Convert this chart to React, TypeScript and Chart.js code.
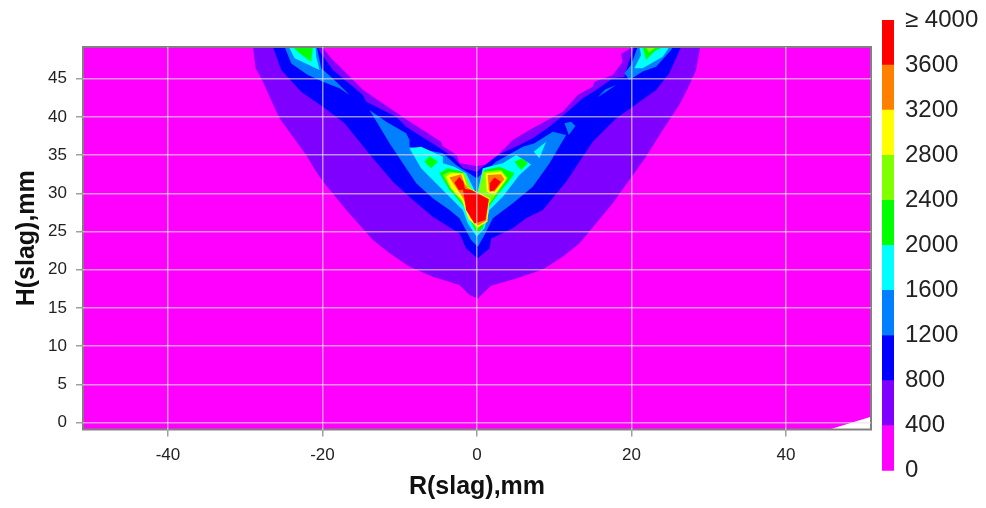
import React, { useEffect, useRef } from "react";
import { Chart, registerables } from "chart.js";

Chart.register(...registerables);

type P = [number, number];

const FONT = "'Liberation Sans', Arial, sans-serif";
const xRange: P = [-51, 51];
const yRange: P = [-0.9, 49.15];
const xTickValues = [-40, -20, 0, 20, 40];
const yTickValues = [0, 5, 10, 15, 20, 25, 30, 35, 40, 45];
const levelTicks = [0, 400, 800, 1200, 1600, 2000, 2400, 2800, 3200, 3600, 4000];
const levelColors = ["#ff00ff", "#7f00ff", "#0000ff", "#007fff", "#00ffff", "#00ff00", "#7fff00", "#ffff00", "#ff7f00", "#ff0000"];

const base0: P[] = [[-51, -0.9], [-51, 49.15], [51, 49.15], [51, 0.76], [45.6, -0.9]];

const region400: P[] = [
  [-29, 49.15], [-28.66, 46.36], [-27.71, 44.6], [-26.85, 42.65], [-25.55, 39.8], [-23.83, 37.4], [-22.1, 35], [-20.8, 32.8], [-19.73, 31.3], [-16.9, 27.8], [-13.48, 23.9], [-11.3, 22.15],
  [-8.73, 20.4], [-5.72, 19.1], [-2.27, 18], [-0.97, 16.7], [0.1, 16.25], [1.83, 17.9], [5.07, 18.87], [8.52, 20.05], [11.1, 21.7], [13.26, 23.45], [15.4, 26.07], [17.57, 28.7], [19.73, 31.75],
  [21.88, 34.8], [24.04, 38.3], [26.2, 41.6], [27.3, 43.74], [28.35, 46.1], [28.91, 49.15], [20.16, 49.15], [18.65, 48.24], [18.86, 47.23], [17.57, 45.5],
  [15.2, 44.6], [14.98, 43.96], [13.04, 42.87], [11.1, 40.69], [6.79, 38.29], [4.63, 36.98], [2.91, 35.2], [2.26, 33.93],
  [-0.03, 33.58], [-2.27, 33.93], [-2.61, 35.02], [-4.42, 36.2], [-4.64, 36.76], [-9.17, 39.69], [-14.77, 43.55], [-18.87, 47.67], [-20.03, 49.15],
];
const region800: P[] = [
  [-26.41, 49.15], [-25.34, 46.14], [-22.75, 43.31], [-21.24, 42.2], [-19.95, 41.34], [-17.14, 39.16], [-13.48, 34.58], [-10.89, 31.53], [-8.3, 29.13],
  [-5.72, 26.95], [-2.27, 24.76], [-1.4, 22.8], [0.05, 21.49], [1.62, 22.8], [1.83, 24.1], [4.64, 25.42], [6.36, 26.73], [8.52, 27.82], [11.54, 31.53], [13.26, 34.14],
  [14.98, 36.76], [16.7, 38.5], [18, 39.8], [20.16, 41.34], [23.18, 43.53], [24.9, 45.7], [26.41, 49.15], [20.37, 49.15], [19.73, 47.45], [19.08, 45.27],
  [17.57, 45.05], [15.42, 43.53], [13.69, 42.44], [11.97, 40.9], [9.38, 38.73], [7.22, 37.2], [5.5, 36.33], [2.7, 35.02], [0.76, 33.49],
  [-0.03, 32.83], [-1.84, 33.27], [-2.9, 34.58], [-4.42, 35.67], [-9.17, 38.73], [-10.46, 40.03], [-14.34, 42], [-14.77, 42.87], [-18.65, 46.14], [-20.16, 48.3], [-20.6, 49.15],
];
const top1200Left: P[] = [[-24.9, 49.15], [-24.04, 47], [-21.89, 45.49], [-19.95, 44.6], [-17.79, 43.74], [-16.5, 42.87], [-18.22, 44.6], [-20.16, 46.36], [-20.72, 49.15]];
const core1200: P[] = [
  [-13.91, 40.91], [-11.75, 39.38], [-9.17, 37.85], [-8.73, 36.98], [-8.73, 36.11], [-4.42, 35.24], [-2.7, 33.71], [-0.03, 31.96], [2.48, 34.14],
  [5.93, 36.11], [7.44, 36.55], [9.81, 38.07], [11.54, 37.64], [9.38, 33.93], [7.22, 30.87], [4.64, 28.69], [2.05, 26.73], [0.97, 24.55], [0.11, 23.02],
  [-0.76, 23.89], [-2.27, 26.73], [-3.56, 27.82], [-5.72, 29.35], [-7.87, 31.31], [-9.6, 33.93], [-11.32, 36.54],
];
const diamond1200: P[] = [[11.32, 39.16], [12.18, 39.38], [12.74, 38.81], [11.88, 37.64]];
const sliver1200: P[] = [[15.63, 42.57], [18, 44.18], [16.6, 43.6]];
const top1200Right: P[] = [[19.08, 45.7], [19.73, 44.83], [21.45, 45.93], [23.18, 46.58], [25.12, 48.76], [25.33, 49.15], [20.8, 49.15], [19.94, 46.8]];

const top1600Left: P[] = [[-24.34, 49.15], [-23.61, 47.67], [-20.38, 46.14], [-20.81, 47.89], [-20.9, 49.15]];
const core1600: P[] = [
  [-8.74, 35.89], [-7.23, 36.11], [-4.42, 34.8], [-4.42, 33.93], [-2.92, 33.49], [-1.41, 32.62], [-0.76, 31.31], [-0.03, 29.78], [0.32, 31.31], [0.75, 33.27],
  [3.34, 33.93], [5.06, 35.02], [7.0, 33.76], [5.49, 32.4], [3.34, 29.56], [1.61, 27.82], [0.97, 25.42], [-0.03, 24.33], [-1.19, 26.07], [-1.84, 27.82], [-3.56, 29.56], [-7.23, 33.27],
];
const sliver1600: P[] = [[7.35, 35.45], [8.94, 36.76], [8.08, 34.58]];
const top1600Right: P[] = [[21.02, 49.15], [21.24, 48.1], [20.37, 46.36], [21.45, 46.36], [24.04, 47.89], [24.9, 49.15]];

const top2000Left: P[] = [[-23.83, 49.15], [-22.97, 48.33], [-21.46, 47.23], [-21.24, 49.15]];
const island2000Left: P[] = [[-6.8, 34.14], [-6.15, 34.89], [-5.07, 34.14], [-5.93, 33.27]];
const core2000: P[] = [
  [-4.86, 32.62], [-3.78, 33.27], [-1.84, 32.83], [-1.19, 31.31], [-0.03, 29.34], [0.53, 30.87], [0.97, 33.05], [2.91, 33.49], [4.85, 32.62], [4.42, 31.96],
  [2.48, 29.56], [1.4, 28.04], [0.75, 25.42], [-0.03, 24.76], [-0.76, 26.3], [-1.62, 28.25], [-3.56, 30.44],
];
const island2000Right: P[] = [[4.85, 34.14], [5.84, 34.58], [6.57, 33.93], [5.71, 33.05]];
const top2000Right: P[] = [[21.45, 49.15], [21.88, 47.45], [22.96, 48.55], [24.04, 49.15]];

const core2400: P[] = [
  [-4.42, 32.4], [-3.56, 32.83], [-1.62, 32.62], [-0.03, 29.13], [0.75, 32.84], [3.12, 33.05], [3.98, 31.96], [2.26, 29.56], [1.18, 28.04], [0.53, 25.85],
  [-0.03, 25.2], [-0.54, 26.3], [-1.62, 28.47], [-3.56, 30.87],
];
const top2400Right: P[] = [[21.9, 49.15], [22.2, 48.4], [23.2, 49.15]];

const core2800: P[] = [[-3.99, 32.18], [-3.35, 32.62], [-1.84, 32.62], [-1.3, 30.85], [1.61, 29.34], [1.35, 26.3], [0.1, 25.55], [-1.1, 26.6], [-1.95, 29.13], [-3.35, 30.65]];
const arm2800: P[] = [[1.1, 32.62], [3.12, 32.83], [3.85, 31.96], [2.26, 29.78], [1.27, 30.22]];

const core3200: P[] = [[-3.56, 32.09], [-2.05, 32.49], [-1.62, 31.31], [-1.25, 30.75], [1.53, 29.22], [1.2, 26.4], [0.1, 25.8], [-0.85, 26.8], [-1.75, 29.34], [-2.92, 31.09]];
const arm3200: P[] = [[1.4, 32.4], [3.12, 32.49], [3.55, 31.83], [2.26, 30.22], [1.53, 30.44]];

const core3600: P[] = [[-1.84, 30.65], [-0.76, 30.44], [1.53, 29.22], [1.09, 26.5], [-0.33, 26.07], [-1.41, 27.82], [-1.6, 29.13]];
const leftArm3600: P[] = [[-2.92, 31.4], [-2.27, 32.15], [-1.75, 31.5], [-1.55, 30.55], [-2.35, 30.4]];
const rightArm3600: P[] = [[1.65, 31.31], [2.26, 32.06], [3.1, 31.53], [2.26, 30.4], [1.65, 30.2]];

const contourLayers: [number, P[]][] = [
  [0, base0], [1, region400], [2, region800], [3, top1200Left], [3, core1200], [3, diamond1200], [3, sliver1200], [3, top1200Right],
  [4, top1600Left], [4, core1600], [4, sliver1600], [4, top1600Right], [5, top2000Left], [5, core2000], [5, island2000Left], [5, island2000Right], [5, top2000Right],
  [6, core2400], [6, top2400Right], [7, core2800], [7, arm2800], [8, core3200], [8, arm3200], [9, core3600], [9, leftArm3600], [9, rightArm3600],
];

const framePlugin = {
  id: "frame",
  afterDatasetsDraw(chart: any) {
    const { ctx, chartArea: a } = chart;
    ctx.save();
    ctx.strokeStyle = "#808080";
    ctx.lineWidth = 2;
    ctx.strokeRect(a.left, a.top, a.right - a.left, a.bottom - a.top);
    ctx.restore();
  },
};

export default function App() {
  const mapRef = useRef<HTMLCanvasElement>(null);
  const barRef = useRef<HTMLCanvasElement>(null);

  useEffect(() => {
    const map = new Chart(mapRef.current!, {
      type: "scatter",
      data: {
        datasets: [...contourLayers].reverse().map(([c, pts]) => ({
          data: pts.map(([x, y]) => ({ x, y })),
          showLine: true,
          fill: "shape",
          backgroundColor: levelColors[c],
          borderColor: levelColors[c],
          borderWidth: 0,
          pointRadius: 0,
          tension: 0,
        })),
      } as any,
      options: {
        animation: false,
        responsive: false,
        layout: { padding: { top: 47, right: 115, left: 0, bottom: 0 } },
        plugins: { legend: { display: false }, tooltip: { enabled: false } },
        scales: {
          x: {
            type: "linear",
            min: xRange[0],
            max: xRange[1],
            afterBuildTicks: (s: any) => { s.ticks = xTickValues.map((value) => ({ value })); },
            afterFit: (s: any) => { s.height = 78.5; },
            grid: { color: "rgba(225,225,225,0.65)", tickColor: "#a0a0a0", lineWidth: 1.5, tickLength: 7, z: 1 },
            border: { display: false },
            ticks: { color: "#222", font: { family: FONT, size: 17 }, padding: 9, maxRotation: 0 },
            title: { display: true, text: "R(slag),mm", color: "#111", font: { family: FONT, size: 25, weight: "bold" }, padding: { top: 0, bottom: 6 } },
          },
          y: {
            type: "linear",
            min: yRange[0],
            max: yRange[1],
            afterBuildTicks: (s: any) => { s.ticks = yTickValues.map((value) => ({ value })); },
            afterFit: (s: any) => { s.width = 83; },
            grid: { color: "rgba(225,225,225,0.65)", tickColor: "#a0a0a0", lineWidth: 1.5, tickLength: 7, z: 1 },
            border: { display: false },
            ticks: { color: "#222", font: { family: FONT, size: 17 }, padding: 9 },
            title: { display: true, text: "H(slag),mm", color: "#111", font: { family: FONT, size: 25, weight: "bold" }, padding: { top: 12, bottom: 0 } },
          },
        },
      } as any,
      plugins: [framePlugin],
    });

    const bar = new Chart(barRef.current!, {
      type: "bar",
      data: {
        labels: ["level"],
        datasets: levelColors.map((color, i) => ({
          data: [[levelTicks[i], levelTicks[i + 1]]],
          backgroundColor: color,
          borderWidth: 0,
          barPercentage: 1,
          categoryPercentage: 1,
          grouped: false,
        })),
      } as any,
      options: {
        animation: false,
        responsive: false,
        layout: { padding: { top: 20, bottom: 37.3, left: 12, right: 0 } },
        plugins: { legend: { display: false }, tooltip: { enabled: false } },
        scales: {
          x: { display: false },
          y: {
            position: "right",
            min: 0,
            max: 4000,
            afterBuildTicks: (s: any) => { s.ticks = levelTicks.map((value) => ({ value })); },
            afterFit: (s: any) => { s.width = 92; s.paddingTop = 0; s.paddingBottom = 0; },
            grid: { display: false },
            border: { display: false },
            ticks: {
              color: "#222",
              padding: 3,
              font: { family: FONT, size: 24 },
              callback: (v: any) => (v === 4000 ? "≥ 4000" : String(v)),
            },
          },
        },
      } as any,
    });

    return () => { map.destroy(); bar.destroy(); };
  }, []);

  return (
    <div style={{ position: "fixed", left: 0, top: 0, width: 986, height: 508, background: "#fff", filter: "blur(0.4px)" }}>
      <canvas ref={mapRef} width={986} height={508} style={{ position: "absolute", left: 0, top: 0 }} />
      <canvas ref={barRef} width={116} height={508} style={{ position: "absolute", left: 870, top: 0 }} />
    </div>
  );
}
